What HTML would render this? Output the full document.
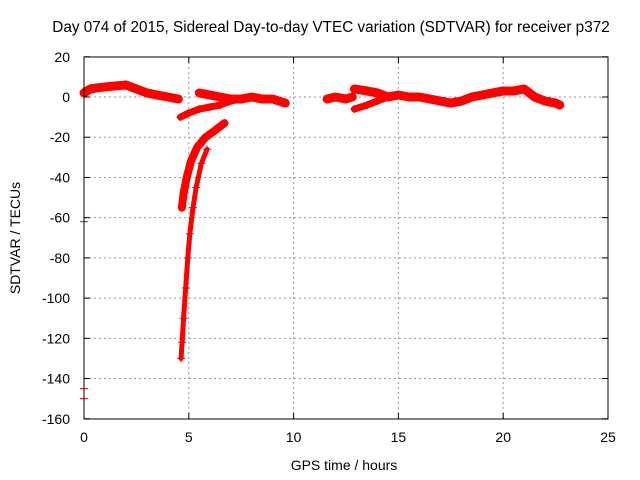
<!DOCTYPE html>
<html><head><meta charset="utf-8"><style>
body{margin:0;background:#fff}
svg{display:block;font-family:"Liberation Sans",sans-serif}
</style></head><body>
<svg id="chart" width="640" height="480">
<text x="331" y="32" text-anchor="middle" font-size="15.3">Day 074 of 2015, Sidereal Day-to-day VTEC variation (SDTVAR) for receiver p372</text>
<g id="grid"></g><g id="marks"></g>
<rect x="84" y="57" width="524" height="362" fill="none" stroke="#000" stroke-width="1"/>
<g id="axes"></g>
<text x="344" y="470" text-anchor="middle" font-size="14">GPS time / hours</text>
<text transform="translate(20,238) rotate(-90)" text-anchor="middle" font-size="14">SDTVAR / TECUs</text>
</svg>
<script>
const xTicks=[0,5,10,15,20,25];
const yTicks=[20,0,-20,-40,-60,-80,-100,-120,-140,-160];
const s1T=[0,0.3,0.6,1,1.5,2,2.5,3,3.5,4,4.5];
const s1V=[2,4,4.5,5,5.5,6,4,2,1,0,-1];
const s2T=[5.5,6,6.5,7,7.5,8,8.5,9,9.3,9.6];
const s2V=[2,1,0,-1,-1,0,-1,-1,-2,-3];
const s3T=[4.6,5,5.5,6,6.5,7,7.5];
const s3V=[-10,-8,-6,-5,-4,-2,-1];
const s4T=[6.7,6.2,5.8,5.4,5.1,4.9,4.75,4.67];
const s4V=[-13,-17,-20,-25,-32,-40,-48,-55];
const s5T=[5.87,5.6,5.35,5.2,5.05,4.95,4.85,4.75,4.68,4.63];
const s5V=[-26,-33,-45,-55,-68,-80,-95,-110,-122,-130];
const s6T=[11.6,12,12.5,12.8];
const s6V=[-1,0,-1,0];
const s7T=[12.9,13.5,14,14.5,15,15.5,16,16.5,17,17.5,18,18.5,19,19.5,20,20.5,21,21.5,22,22.5,22.7];
const s7V=[4,3,2,0,1,0,0,-1,-2,-3,-2,0,1,2,3,3,4,0,-2,-3,-4];
const s8T=[12.9,13.5,14,14.5];
const s8V=[-6,-4,-2,0];
const isoT=[0,0,0];
const isoV=[-62,-150,-145];
const X=t=>84+t*20.96, Y=v=>97-v*2.011;
const NS="http://www.w3.org/2000/svg";
function mk(tag,attrs,parent){const e=document.createElementNS(NS,tag);for(const k in attrs)e.setAttribute(k,attrs[k]);parent.appendChild(e);return e;}
const grid=document.getElementById('grid'),axes=document.getElementById('axes'),marks=document.getElementById('marks');
xTicks.forEach(t=>{
 if(t>0&&t<25){const g=mk('line',{x1:X(t),x2:X(t),y1:57,y2:419,stroke:'#999','stroke-dasharray':'2,3'},grid);
 
 }
 mk('line',{x1:X(t),x2:X(t),y1:419,y2:413,stroke:'#000'},axes);
 mk('line',{x1:X(t),x2:X(t),y1:57,y2:63,stroke:'#000'},axes);
 const l=mk('text',{x:X(t),y:442,'text-anchor':'middle','font-size':14},axes);l.textContent=t;
 
 
});
yTicks.forEach(v=>{
 if(v<20&&v>-160){const g=mk('line',{x1:84,x2:608,y1:Y(v),y2:Y(v),stroke:'#999','stroke-dasharray':'2,3'},grid);
 
 }
 mk('line',{x1:84,x2:90,y1:Y(v),y2:Y(v),stroke:'#000'},axes);
 mk('line',{x1:602,x2:608,y1:Y(v),y2:Y(v),stroke:'#000'},axes);
 const l=mk('text',{x:70,y:Y(v)+5,'text-anchor':'end','font-size':14},axes);l.textContent=v;
 
 
});
function series(T,V,w,name){
 const pts=T.map((t,i)=>X(t)+','+Y(V[i])).join(' ');
 if(T.length>1){const p=mk('polyline',{points:pts,fill:'none',stroke:'#f00','stroke-width':w,'stroke-linejoin':'round','stroke-linecap':'round'},marks);
 
 }
 T.forEach((t,i)=>{const x=X(t),y=Y(V[i]);
  const m=mk('path',{d:`M${x-4},${y}H${x+4}M${x},${y-4}V${y+4}`,stroke:'#f00','stroke-width':1},marks);
  
  });
}
series(s1T,s1V,9,'series-arc-1');
series(s2T,s2V,9,'series-arc-2');
series(s3T,s3V,7,'series-arc-3');
series(s4T,s4V,8,'series-arc-4');
series(s5T,s5V,5,'series-arc-5');
series(s6T,s6V,9,'series-arc-6');
series(s7T,s7V,9,'series-arc-7');
series(s8T,s8V,7,'series-arc-8');
series(isoT,isoV,0,'series-isolated');
</script>
</body></html>
